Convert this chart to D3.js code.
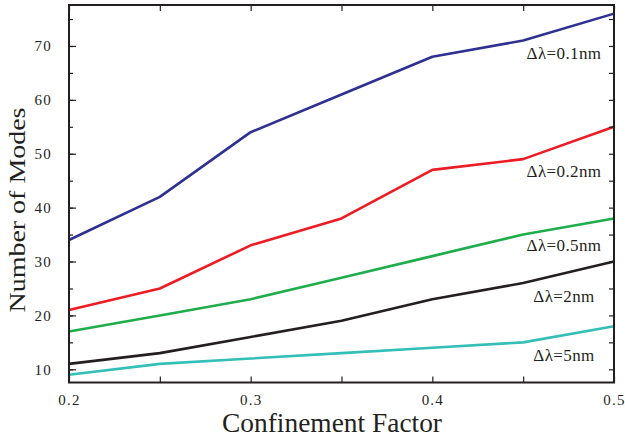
<!DOCTYPE html>
<html>
<head>
<meta charset="utf-8">
<script src="https://cdn.jsdelivr.net/npm/d3@7"></script>
<style>
  html, body { margin: 0; padding: 0; background: #fff; }
  svg { display: block; }
  svg text { font-family: "Liberation Serif", "Times New Roman", serif !important; fill: #231f20; }
</style>
</head>
<body>
<svg id="chart" width="625" height="439"></svg>
<script>
// ---- data ----
const confinement = [0.2, 0.25, 0.3, 0.35, 0.4, 0.45, 0.5];
const modes_01nm = [34, 42, 54, 61, 68, 71, 76];
const modes_02nm = [21, 25, 33, 38, 47, 49, 55];
const modes_05nm = [17, 20, 23, 27, 31, 35, 38];
const modes_2nm  = [11, 13, 16, 19, 23, 26, 30];
const modes_5nm  = [9, 11, 12, 13, 14, 15, 18];
const seriesNames = ["Δλ=0.1nm", "Δλ=0.2nm", "Δλ=0.5nm", "Δλ=2nm", "Δλ=5nm"];
const seriesColors = ["#2e3192", "#ed1c24", "#1fad4b", "#231f20", "#33bfb7"];
const labelX = [0.4725, 0.4725, 0.4725, 0.4725, 0.4725];
const labelY = [68.7, 46.7, 33.1, 23.5, 12.7];
const xTicks = [0.2, 0.3, 0.4, 0.5];
const xMinorTicks = [0.2, 0.25, 0.3, 0.35, 0.4, 0.45, 0.5];
const yTicks = [10, 20, 30, 40, 50, 60, 70];
const yMinorTicks = [10, 15, 20, 25, 30, 35, 40, 45, 50, 55, 60, 65, 70, 75];
const xTitle = "Confinement Factor";
const yTitle = "Number of Modes";

const allSeries = [modes_01nm, modes_02nm, modes_05nm, modes_2nm, modes_5nm];

// ---- layout ----
const L = 69, R = 614, T = 5, B = 382.5;
const svg = d3.select("#chart");
const x = d3.scaleLinear().domain([0.2, 0.5]).range([L, R]);
const y = d3.scaleLinear().domain([7.55, 77.6]).range([B, T]);

// lines
const line = d3.line().x((d, i) => x(confinement[i])).y(d => y(d));
allSeries.forEach((s, k) => {
  svg.append("path").datum(s)
    .attr("d", line)
    .attr("fill", "none")
    .attr("stroke", seriesColors[k])
    .attr("stroke-width", 2.6)
    .attr("stroke-linejoin", "round");
});

// axes (inward ticks)
function styleAxis(g) {
  g.select(".domain").remove();
  g.selectAll(".tick line").attr("stroke", "#231f20").attr("stroke-width", 1.2);
}
function noText(g) { g.selectAll(".tick text").remove(); }
// bottom minor
svg.append("g").attr("transform", `translate(0,${B})`)
  .call(d3.axisBottom(x).tickValues(xMinorTicks).tickSize(-6))
  .call(styleAxis).call(noText);
// bottom labels
svg.append("g").attr("transform", `translate(0,${B})`)
  .call(d3.axisBottom(x).tickValues(xTicks).tickSize(0).tickPadding(12).tickFormat(d3.format(".1f")))
  .call(styleAxis)
  .call(g => g.selectAll("text").attr("font-size", 15).attr("letter-spacing", 1.2)
      .attr("font-family", "Liberation Serif, serif").attr("fill", "#231f20"));
// top
svg.append("g").attr("transform", `translate(0,${T})`)
  .call(d3.axisTop(x).tickValues(xMinorTicks).tickSize(-6))
  .call(styleAxis).call(noText);
// left minor
svg.append("g").attr("transform", `translate(${L},0)`)
  .call(d3.axisLeft(y).tickValues(yMinorTicks).tickSize(-4))
  .call(styleAxis).call(noText);
// left major + labels
svg.append("g").attr("transform", `translate(${L},0)`)
  .call(d3.axisLeft(y).tickValues(yTicks).tickSize(-7).tickPadding(17).tickFormat(d3.format("d")))
  .call(styleAxis)
  .call(g => g.selectAll("text").attr("font-size", 15).attr("letter-spacing", 1.2)
      .attr("font-family", "Liberation Serif, serif").attr("fill", "#231f20"));
// right
svg.append("g").attr("transform", `translate(${R},0)`)
  .call(d3.axisRight(y).tickValues(yMinorTicks).tickSize(-5))
  .call(styleAxis).call(noText);

// frame
svg.append("rect").attr("x", L).attr("y", T).attr("width", R - L).attr("height", B - T)
  .attr("fill", "none").attr("stroke", "#231f20").attr("stroke-width", 2);

// series labels
seriesNames.forEach((n, k) => {
  svg.append("text")
    .attr("x", x(labelX[k])).attr("y", y(labelY[k]))
    .attr("dy", "0.35em")
    .attr("text-anchor", "middle")
    .attr("font-size", 17)
    .attr("letter-spacing", 0.4)
    .text(n);
});

// axis titles
svg.append("text")
  .attr("x", 332).attr("y", 432)
  .attr("text-anchor", "middle")
  .attr("font-size", 28)
  .attr("textLength", 220).attr("lengthAdjust", "spacingAndGlyphs")
  .text(xTitle);
svg.append("text")
  .attr("transform", `translate(25,210) rotate(-90)`)
  .attr("text-anchor", "middle")
  .attr("font-size", 23)
  .attr("textLength", 205).attr("lengthAdjust", "spacingAndGlyphs")
  .text(yTitle);
</script>
</body>
</html>
